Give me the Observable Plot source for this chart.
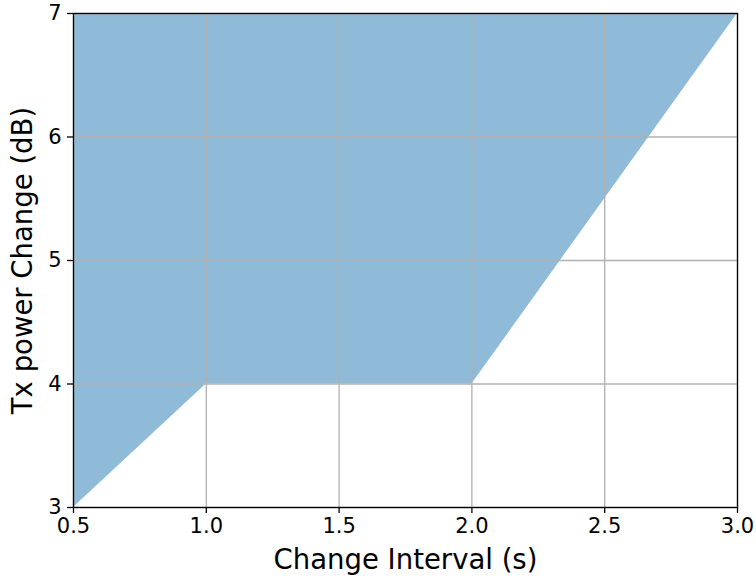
<!DOCTYPE html>
<html>
<head>
<meta charset="utf-8">
<script src="https://cdn.jsdelivr.net/npm/d3@7"></script>
<script src="https://cdn.jsdelivr.net/npm/@observablehq/plot@0.6"></script>
<style>
  html, body { margin: 0; padding: 0; background: #fff; }
  #chart svg { display: block; }
</style>
</head>
<body>
<div id="chart"></div>
<script>
// Boundary of the shaded region (lower edge), filled up to the top value
const intervals = [0.5, 1.0, 2.0, 3.0];
const powerChange = [3, 4, 4, 7];
const topValue = 7;
const xTicks = [0.5, 1.0, 1.5, 2.0, 2.5, 3.0];
const yTicks = [3, 4, 5, 6, 7];
const xLabel = "Change Interval (s)";
const yLabel = "Tx power Change (dB)";

const rows = intervals.map((x, i) => ({x, y1: powerChange[i], y2: topValue}));

const chart = Plot.plot({
  width: 756,
  height: 578,
  marginLeft: 73,
  marginRight: 19,
  marginTop: 13,
  marginBottom: 71,
  style: {fontFamily: "DejaVu Sans", fontSize: "21px", color: "#000", background: "#fff"},
  x: {domain: [0.5, 3.0]},
  y: {domain: [3, 7]},
  marks: [
    Plot.areaY(rows, {x: "x", y1: "y1", y2: "y2", fill: "#8fbbd9", curve: "linear"}),
    Plot.gridX(xTicks, {stroke: "#b0b0b0", strokeOpacity: 1, strokeWidth: 1.3}),
    Plot.gridY(yTicks, {stroke: "#b0b0b0", strokeOpacity: 1, strokeWidth: 1.3}),
    Plot.frame({stroke: "#000", strokeWidth: 1.3}),
    Plot.axisX(xTicks, {tickSize: 6, tickPadding: 5, tickFormat: d => d.toFixed(1), label: null, fontSize: 21, strokeWidth: 1.3}),
    Plot.axisY(yTicks, {tickSize: 6, tickPadding: 6, tickFormat: d => String(d), label: null, fontSize: 21, strokeWidth: 1.3}),
    Plot.text([xLabel], {frameAnchor: "bottom", dy: 53, fontSize: 27.5, lineAnchor: "middle", textAnchor: "middle"}),
    Plot.text([yLabel], {frameAnchor: "left", dx: -50, rotate: -90, fontSize: 27.5, lineAnchor: "middle", textAnchor: "middle"})
  ]
});
document.getElementById("chart").appendChild(chart);
</script>
</body>
</html>
